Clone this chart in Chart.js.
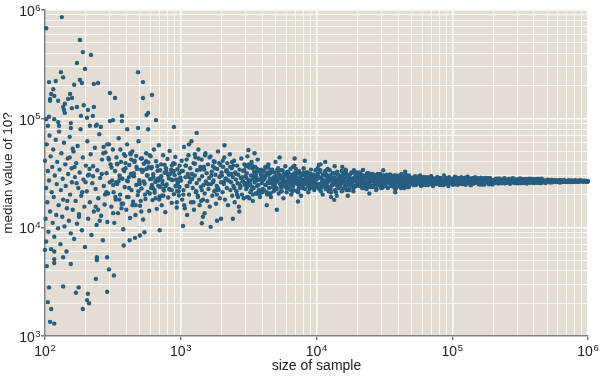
<!DOCTYPE html>
<html><head><meta charset="utf-8">
<script src="https://cdn.jsdelivr.net/npm/chart.js@4.4.0/dist/chart.umd.min.js"></script>
<style>html,body{margin:0;padding:0;background:#fff;}#wrap{width:600px;height:379px;}</style>
</head><body><div id="wrap"><canvas id="c" width="600" height="379"></canvas></div>
<script>
const xTickValues = [1e2, 1e3, 1e4, 1e5, 1e6];
const xTickExponents = ['2', '3', '4', '5', '6'];
const yTickValues = [1e3, 1e4, 1e5, 1e6];
const yTickExponents = ['3', '4', '5', '6'];
const tickBase = '10';
const xTitle = 'size of sample';
const yTitle = 'median value of 10?';

// sample sizes 10^2 .. 10^3
const size1 = [
102,133,181,190,218,172,197,131,136,181,
187,164,229,246,107,120,115,111,117,109,
109,125,148,153,158,140,136,138,140,158,
172,193,207,229,184,204,225,301,328,485,
527,614,527,575,560,369,369,317,301,657,
890,102,107,105,117,125,155,155,214,237,
241,258,403,485,575,127,
117,117,103,136,155,241,241,287,296,322,
237,107,136,177,169,207,287,105,204,211,
111,190,109,117,100,117,
100,101,102,102,103,104,105,106,107,108,
109,110,111,112,113,114,115,116,117,118,
120,121,122,123,125,126,127,128,130,131,
132,134,135,136,138,139,141,142,144,145,
147,148,150,152,153,155,157,158,160,162,
164,166,168,170,172,174,176,178,180,183,
185,187,190,192,195,197,200,203,205,208,
211,214,217,220,223,226,229,233,236,240,
243,247,251,255,259,263,267,271,275,279,
284,288,292,296,300,
304,308,312,316,320,324,328,332,336,340,
345,349,354,358,363,367,372,377,382,387,
392,397,402,407,412,418,423,429,434,440,
446,452,458,464,470,476,482,488,495,501,
508,514,521,528,535,542,549,556,564,571,
578,586,593,600,420,500,540,700,380,460,
605,612,619,627,634,642,650,658,666,674,
682,690,699,707,716,724,733,742,751,760,
770,779,788,798,808,818,828,838,848,858,
869,879,890,901,912,923,934,946,957,969,
981,993,
262,745,431,318,889,507,356,672,283,948,
590,403,821,339,718,465,976,293,623,378,
852,545,309,694,442,915,366,577,782,496,
270,641,415,860,330,529,733,455,965,611,
390,805,512,348,702,472,935,560,425,660,
152,487,236,812,341,615,178,923,402,269,
704,556,199,376,858,451,287,652,165,534,
980,318,761,226,470,591,146,833,359,688,
253,509,417,902,188,630,296,774,441,213,
569,335,727,160,954,392,246,498,873,277,
605,427,207,746,353,518,171,680,384,939
];
const median1 = [
680000,860000,530000,410000,385000,325000,287000,268000,240000,227000,
213000,205000,209000,213000,217000,222000,187000,169000,162000,152000,
146000,146000,152000,169000,155000,137000,128000,120000,113000,125000,
128000,133000,120000,128000,106000,102000,106000,172000,155000,268000,
217000,165000,155000,113000,108000,106000,95000,97000,95000,97000,
84000,99000,104000,86000,99000,93000,91000,82000,86000,86000,
88000,84000,80000,82000,80000,86000,
5100,4700,4400,5300,4600,5300,5000,5300,4100,3600,
3350,2800,2850,2800,2500,2450,2550,2050,2140,2000,
1770,1770,1350,1300,6200,6000,
41000,12000,23000,7400,58000,17000,33000,9100,27000,70000,
14000,45000,6300,21000,36000,11000,52000,19000,8200,30000,
64000,13000,25000,40000,9800,16000,76000,34000,7000,22000,
48000,12500,28000,18000,60000,10200,38000,24000,6000,15000,
43000,31000,11500,68000,20000,8800,35000,26000,14500,50000,
7800,29000,17500,39000,10800,56000,23000,13200,32000,80000,
19500,9400,44000,27500,15500,6600,37000,21500,62000,12000,
30500,17000,47000,8500,25500,36500,14000,54000,22500,10500,
33500,18500,72000,28500,12800,42000,7600,24000,16200,49000,
31500,11200,20500,58000,26000,
38000,15500,27000,52000,21000,11000,33000,18000,44000,25000,
13500,66000,30000,20000,40000,16500,28000,9600,47000,23500,
35000,14500,58000,26500,19000,37500,12200,31000,22000,50000,
17200,29500,41000,13000,24500,34500,19800,62000,27200,15800,
43000,22800,32500,11800,38500,25200,18200,48000,30000,21200,
35800,14200,27800,45000,7600,8400,9000,9400,6800,8000,
23000,36000,17800,30800,52000,20800,26200,40500,14800,33200,
24200,57000,19200,29000,38000,16000,26800,46000,21800,31800,
13800,35000,24800,42500,18800,28200,50500,22200,33800,16800,
27200,39000,20200,30200,44500,23800,15200,34200,26600,19600,
37000,28800,
31000,19500,42000,24500,33000,17500,28500,36500,21000,25500,
46000,27000,22500,38500,29500,16000,31500,43500,23000,34000,
27500,20000,35500,18000,30000,24000,15000,39500,32500,26000,
55000,22000,29000,37000,19000,33500,25000,40000,21500,28000,
45500,30500,14000,26500,23500,36000,17000,34500,48000,27000,
44000,21500,15500,30500,38000,24500,12500,27500,19000,48000,
33500,40500,26000,16500,22000,31500,58000,18500,36000,26500,
23500,13500,37500,29500,45500,20500,17500,31000,52000,27000,
11500,34000,23000,38500,21000,29000,42000,24000,16000,34500,
30000,26000,19500,53000,27500,39000,14500,25000,32500,20000,
35000,47000,30000,22500,18000,43000,25500,28000,33000,21500
];

// sample sizes 10^3 .. 10^4
const size2 = [
1005,1016,1024,1037,1049,1057,1071,1082,1090,1105,
1113,1128,1141,1150,1165,1174,1190,1199,1216,1226,
1242,1251,1268,1282,1292,1310,1320,1338,1349,1367,
1377,1396,1408,1426,1438,1457,1470,1488,1501,1520,
1533,1553,1566,1587,1600,1621,1634,1656,1670,1692,
1706,1728,1743,1765,1780,1803,1819,1842,1858,1882,
1898,1923,1939,1964,1981,1997,
1310,1430,1660,1980,1040,1150,1500,1850,
2010,2032,2051,2075,2093,2118,2140,2158,2184,2205,
2229,2250,2276,2298,2321,2347,2370,2395,2420,2443,
2470,2496,2520,2547,2573,2600,2626,2655,2681,2710,
2737,2766,2794,2822,2852,2881,2910,2942,2971,3002,
3033,3064,3096,3127,3160,3192,3225,3258,3292,3326,
3360,3395,3430,3465,3500,3537,3573,3610,3647,3685,
3722,3761,3800,3839,3878,3960,
2100,2420,3150,2700,3500,
4020,4060,4100,4150,4190,4240,4280,4330,4380,4420,
4470,4520,4570,4620,4670,4720,4770,4830,4880,4930,
4990,5040,5100,5160,5210,5270,5330,5390,5450,5510,
5570,5630,5700,5760,5830,5890,5960,6020,6090,6160,
6230,6300,6370,6440,6510,6580,6660,6730,6810,6880,
6960,7040,7120,7200,7280,7360,7440,7530,7610,7700,
7780,7870,7960,8050,8140,8230,8320,8420,8510,8610,
8700,8800,8900,9000,9100,9200,9310,9410,9520,9620,
9730,9840,9950,4450,5600,6700,7900,9050,
5100,7300,5350,6900,4300,8200,
1120,3480,6350,1785,8920,2640,4710,1355,7480,2215,
5260,1045,9630,3015,1590,6870,2480,4090,1240,8210,
3720,1915,5820,2835,1430,9180,4420,2095,7050,1085,
3260,5540,1680,8640,2385,4960,1300,6610,2930,9870,
1510,3870,7780,2150,5040,1195,8450,3370,1845,6120,
2550,4580,1395,9410,3130,1060,7250,2310,5390,1725,
8030,3610,1270,6480,2760,4280,1960,9050,3990,1460,
5700,2040,7620,1150,3540,8790,2600,4840,1630,6250,
1020,3200,9290,2270,5150,1550,7370,2880,4190,1335,
8350,3780,1880,6020,2440,5460,1210,9730,3050,1750,
6750,2700,4500,1415,7900,3440,2180,5930,1105,8560,
4040,1820,6990,2360,3660,1480,9490,5090,2980,1270,
3090,7150,4630,9960,5480,3570,8100,6180,4250,9340,
5880,3310,7560,4880,8690,6540,3820,9710,5210,7010,
4140,8880,3650,6410,5330,9260,4770,7690,3160,6060,
8290,5020,9550,3930,7320,4360,6840,5760,8970,3400,
6300,4530,9880,7960,3740,5620,8460,4010,6950,9150,
3250,5310,7440,4680,8580,6670,3520,9620,5950,4420,
7820,3080,6230,9030,4920,8170,3690,5700,7480,4080,
9410,6010,3360,8740,5140,7230,4290,9800,6600,3900
];
const median2 = [
27000,41000,18000,33000,22000,55000,15000,29000,37000,24000,
13000,31000,46000,20000,26000,35000,17000,62000,28000,23000,
39000,14500,30000,44000,21000,25500,33500,19000,52000,27500,
16000,36000,23500,42000,29500,12500,24500,34000,20500,48000,
26500,31500,17500,38000,22500,28500,15500,45000,25000,32500,
19500,36500,27000,21500,40000,30500,16500,24000,34500,50000,
22000,29000,18500,37500,26000,32000,
74000,10900,10100,12000,10300,58000,13500,11500,
30000,21000,36000,25000,44000,18000,28000,33000,23000,39000,
16000,27000,31000,47000,22000,26000,35000,19500,29000,24000,
41000,17000,32000,27500,21500,37000,25500,30500,15500,34000,
23000,28500,43000,20000,26500,33000,18500,38000,24500,29500,
22500,31500,45000,19000,27000,35500,25000,21000,30000,40000,
23500,17500,28000,32500,26000,36000,20500,29000,24000,42000,
27500,22000,33500,19000,31000,25500,
57000,12000,51500,14000,48000,
27000,33000,22000,29000,36000,24500,30500,20000,26000,38000,
23000,28000,31500,19000,25500,34000,27500,21500,32000,24000,
40000,29000,22500,26500,35000,20500,30000,25000,28500,33500,
23500,27000,18500,31000,24500,36500,26000,21000,29500,32500,
23000,27500,25500,34500,20000,28000,30500,24000,22000,37000,
26500,29000,31500,21500,27000,25000,33000,23500,28500,19500,
30000,26000,24500,35000,27500,22500,29500,32000,25500,28000,
21000,31000,26500,23500,34000,27000,24000,29000,30500,22000,
25000,33500,28000,20500,26000,36000,23000,31000,
14500,17300,44000,43000,16000,41000,
24000,29500,22500,35000,30000,19000,26500,43000,24500,32000,
28000,20000,26000,36500,25000,31500,23000,33000,17000,27500,
21000,39000,25000,29000,22000,23500,30500,26500,34500,37000,
24500,21500,30000,28500,40000,25500,21500,27000,33500,24000,
46000,22000,30500,28000,23000,27500,26000,35000,20000,29000,
31000,20500,34000,27000,25000,16000,25500,36000,30000,26000,
32000,27000,38500,22000,24000,35500,29500,28500,21000,18000,
26500,41000,23500,29000,31000,25000,20000,29000,44000,27500,
33000,18500,27500,30500,34000,25500,22500,26500,24500,19500,
30000,27500,23000,32000,37000,23500,31000,25500,28500,40500,
28000,25000,31500,17500,26000,23000,33500,26500,42000,28500,
29500,22000,27000,31000,20500,36000,24500,30000,25500,47000,
23500,29000,33500,25000,21500,30500,27000,24500,36000,28500,
26500,22000,31000,27500,24000,29500,20500,27000,32500,25500,
28000,22500,34500,26000,30000,28000,23500,26500,38000,31500,
25000,27500,23000,29000,21000,32000,26000,24000,30000,20000,
28500,25500,27500,31000,24500,33500,26500,22500,29500,24000,
27000,30500,23500,28000,32000,21500,26500,29000,25000,35500,
27500,19000,31500,25500,22000,26000,33000,28500,24500,30000,
26000,23000,37000,27500,29500,25000,21000,28000,24500,34000
];

// sample sizes 10^4 .. 10^5
const size3 = [
10050,10180,10290,10420,10530,10660,10780,10900,11040,11150,
11290,11410,11540,11680,11800,11950,12080,12220,12360,12500,
12650,12790,12940,13090,13240,13390,13550,13700,13860,14020,
14180,14340,14510,14670,14840,15010,15190,15360,15540,15720,
15900,16080,16270,16450,16640,16840,17030,17230,17430,17630,
17830,18040,18240,18450,18670,18880,19100,19320,19540,19770,
11600,13500,10400,12800,15500,17000,
20100,20340,20570,20810,21050,21300,21540,21800,22050,22310,
22570,22830,23100,23370,23640,23920,24200,24480,24770,25060,
25350,25650,25950,26250,26560,26870,27180,27500,27820,28150,
28480,28810,29150,29490,29830,30180,30530,30890,31250,31620,
31990,32360,32740,33120,33510,33900,34300,34700,35100,35510,
35930,36350,36770,37200,37640,38080,38520,38970,39430,39890,
40350,40830,41300,41790,42270,42770,43270,43770,44280,44800,
45330,45850,46390,46930,47480,48040,48600,49170,49740,49950,
22000,24500,31000,38000,45000,
50300,51000,51800,52500,53300,54000,54800,55600,56400,57200,
58100,58900,59800,60600,61500,62400,63300,64200,65200,66100,
67100,68100,69100,70100,71100,72100,73200,74200,75300,76400,
77500,78700,79800,81000,82100,83300,84600,85800,87000,88300,
89600,90900,92200,93600,94900,96300,97700,99200,55000,62000,
70500,78000,86000,93000,98500,
11300,34600,67800,15800,88200,24100,47300,12700,71900,29400,
53600,18300,95700,38700,10600,61200,21900,43100,14200,80400,
32200,16900,57800,26800,10900,92500,41400,19800,74600,13300,
30700,64900,17400,85100,23300,49600,11900,69200,36100,15200,
52100,27900,99000,20600,45800,12300,78100,33400,18900,59400,
25700,40200,14700,83600,28600,10300,65800,22700,54900,16300,
90100,37400,13800,72800,31600,19300,47900,11600,63100,26300,
81800,35300,17800,56300,24600,96800,42600,15000,68500,29900,
12900,51000,21400,76300,39500,16600,87400,27100,60200,14000,
44300,23800,94000,32900,18500,70700,13100,48700,20300,79200,
10200,27300,58600,13900,36800,80900,16100,44800,21200,11100,
70200,30300,12500,50600,19000,91400,25300,14500,39000,63800,
10800,23000,47000,17200,33000,76800,12000,28300,55800,15600,
42000,20900,84400,11500,35700,18100,66500,26000,13600,98000,
40800,22400,14900,53100,31300,10500,73500,24800,16800,46100,
12200,37900,60600,19600,29100,87900,11000,43700,21700,15300,
34000,68800,17600,26600,13000,51700,23600,10700,82500,38300,
20000,14400,57000,31900,11800,45300,18700,28900,95100,16000,
24300,12600,65100,35000,13400,41800,19900,74100,27700,15900,
10400,32600,48200,22100,12100,89700,37000,17100,61900,25400,
14100,42900,20800,10100,30000,56600,18000,11400,39800,23700,
71300,15400,27000,13200,46600,21000,84000,33700,16400,52600
];
const median3 = [
27500,31000,23000,29000,25000,33500,21500,28000,26000,30500,
24000,27000,32000,22500,29500,25500,34000,26500,23500,28500,
30000,21000,27000,24500,31500,26000,29000,22000,28000,25000,
32500,27500,23000,30000,26500,24000,29000,21500,27000,31000,
25500,28000,23500,33000,26000,29500,24500,27500,22500,30500,
25000,28000,26500,32000,23000,27000,29000,24000,31000,26000,
40000,17900,37500,19000,36000,19500,
26500,29000,24000,27500,31000,25000,28000,23000,30000,26000,
27000,24500,29500,22500,28500,26000,31500,25500,27000,23500,
29000,26500,24000,28000,30500,25000,27500,22000,29000,26000,
24500,28500,27000,31000,25500,23500,28000,26500,30000,24000,
27500,25000,29000,26000,23000,28000,27000,30500,25500,24500,
29500,26500,28000,23500,27000,25000,30000,26000,28500,24000,
27500,29000,25500,26500,31000,24500,28000,27000,23000,29500,
26000,25000,28000,27500,24000,30000,26500,25500,28500,27000,
33700,20500,33500,21000,32500,
27000,25000,28500,26000,29500,24500,27500,26500,25500,28000,
30000,24000,27000,26000,28500,25000,29000,26500,27500,24500,
28000,25500,27000,29500,26000,24000,28000,26500,27500,25000,
29000,26000,27000,24500,28500,25500,27000,26500,30000,25000,
28000,26000,27500,24000,29000,26500,25500,27000,28000,25000,
26500,29000,24500,27500,26000,
26000,28500,25500,31000,27500,24000,29000,22500,26500,30000,
27000,25500,28000,23000,32500,29000,27000,25000,24000,26500,
29500,30500,25000,27000,23500,28000,26000,32000,27500,25000,
23500,28500,22000,26000,29500,26500,30500,25500,28000,26000,
29000,24500,26500,27500,30000,21500,28000,25500,33500,27000,
31000,26500,28000,25000,27500,29500,26000,23000,28500,24500,
27000,30000,26500,24500,26000,29000,23500,33000,27500,28500,
26500,24000,27500,29000,25000,26500,29000,25500,27000,23000,
27500,25500,30500,28000,26500,22000,26000,29500,24500,31500,
27000,24000,27000,30500,28000,25500,24500,27500,29000,26000,
35000,25500,28000,21000,29500,25500,31500,24000,30500,20000,
27000,23000,33500,26000,23500,27500,28500,26500,26000,24500,
28500,24500,28000,22000,27500,28500,23500,31000,25500,29000,
23000,26000,27000,31500,25000,32000,29000,23500,36500,26000,
30000,27500,24000,28500,26500,22500,26000,30500,25500,26500,
29000,22500,27000,28500,24500,25000,26000,28500,23000,33000,
27000,25000,27000,29500,24500,24500,31500,38000,28000,27500,
25000,30500,29500,24000,27000,30500,21500,28000,25500,23000,
26500,22000,26500,30500,28500,25500,30000,27500,22500,27500,
25000,29000,25000,29500,34500,28500,24500,29500,25500,27000,
19500,27500,32000,30000,25500,26500,24500,24000,28500,23500,
28500,22000,30000,31500,23500,27000,24500,26000,34000,27500
];

// sample sizes 10^5 .. 10^6
const size4 = [
100500,101800,103000,104300,105600,106900,108200,109600,110900,112300,
113700,115100,116600,118000,119500,121000,122500,124000,125600,127100,
128700,130300,132000,133600,135300,137000,138700,140400,142200,144000,
145800,147600,149400,151300,153200,155100,157000,159000,161000,163000,
165000,167100,169200,171300,173400,175600,177800,180000,182200,184500,
186800,189200,191500,193900,196400,
201000,204000,207000,210000,213000,216000,219000,222000,225000,228000,
232000,235000,238000,242000,245000,249000,252000,256000,259000,263000,
267000,271000,274000,278000,282000,286000,291000,295000,299000,303000,
308000,312000,317000,321000,326000,331000,335000,340000,345000,350000,
355000,360000,366000,371000,376000,382000,387000,393000,399000,404000,
410000,416000,422000,428000,435000,441000,447000,454000,460000,467000,
474000,481000,488000,495000,215000,265000,300000,360000,420000,470000,
502000,511000,520000,529000,538000,548000,557000,567000,577000,587000,
597000,608000,618000,629000,640000,651000,663000,674000,686000,698000,
710000,723000,735000,748000,761000,775000,788000,802000,816000,830000,
845000,860000,875000,890000,906000,921000,938000,954000,971000,988000,
533000,590000,655000,720000,795000,850000,915000,965000,996000,545000,
112000,347000,683000,158000,884000,241000,473000,127000,719000,294000,
536000,183000,957000,387000,106000,612000,219000,431000,142000,804000,
322000,169000,578000,268000,109000,925000,414000,198000,746000,133000,
307000,649000,174000,851000,233000,496000,119000,692000,361000,152000,
521000,279000,990000,206000,458000,123000,781000,334000,189000,594000,
257000,402000,147000,836000,286000,103000,658000,227000,549000,163000,
104800,263000,571000,137800,329000,812000,178500,442000,118700,673000,
221000,155800,506000,296000,101200,731000,195600,376000,128300,941000,
245000,166300,617000,352000,111500,483000,209000,868000,141600,398000,
274000,114600,555000,187300,316000,770000,131200,455000,236000,998000,
107300,284000,632000,149000,365000,903000,171600,419000,125100,705000,
252000,160200,526000,312000,116300,762000,192000,389000,135200,979000
];
const median4 = [
26500,28000,25200,27300,29000,25800,26900,24600,28400,26200,
27600,25400,28900,26700,25000,27900,26300,28600,24800,27100,
26000,29200,25600,27400,26800,24400,28100,26400,27700,25300,
28800,26100,27200,25700,26600,28300,24900,27500,26200,28700,
25500,27000,26900,24700,27800,26400,25900,28200,27300,25200,
26700,28500,25800,27100,26300,
26600,27400,25600,28000,26200,27100,25300,26900,27800,26000,
25800,27500,26400,28300,25500,26800,27200,25900,26500,27900,
25200,26700,27300,26100,28100,25700,26900,27600,26300,25400,
27000,26600,28200,25900,26400,27400,25600,26800,27700,26200,
25300,27100,26500,28000,25800,26900,27300,26000,25500,27600,
26700,26300,27900,25700,26500,27200,26100,25900,27500,26800,
26400,27000,25600,26600,27300,26200,25800,27100,26900,26500,
26600,27100,26200,26800,27300,26000,26700,26400,27000,26100,
26900,26500,27200,25900,26600,26300,27100,26800,26200,26700,
26400,27000,26500,26100,26900,26600,26300,27100,26500,26800,
26200,26700,26400,26900,26600,26300,26800,26500,26700,26400,
26900,26200,26600,27000,26400,26700,26500,26600,26400,26800,
27800,26100,26500,25000,26900,27600,26300,28700,26200,25600,
27000,26000,26600,27400,24900,26800,26500,27900,28300,26400,
25500,27200,26700,27100,27300,26500,25800,24800,26900,25900,
27700,26300,28400,26700,25400,26600,26800,26600,27300,26900,
26400,28000,26600,27200,25700,25300,26500,26900,27400,26700,
26200,27500,25700,26600,25900,28000,26400,27000,26900,24700,
29300,25600,27100,24700,27800,26300,28500,25500,26100,26900,
28100,25300,27400,26100,24600,26700,27300,25700,28900,26500,
25400,28200,25900,27700,27000,26300,25900,27000,26000,27200,
28000,25200,26600,24900,25600,26200,27900,28000,26800,26700,
26700,27100,27200,28800,26200,26800,25600,26500,24800,26100,
27600,27000,25800,27400,28500,26900,26100,27900,25300,26400
];

const PLOT_BG = 'rgb(228,221,211)';
const DOT_COLOR = 'rgb(38,94,128)';
const AXIS_COLOR = '#808080';
const TEXT_COLOR = '#222';

function toPoints(xs, ys) {
  const n = Math.min(xs.length, ys.length);
  const out = [];
  for (let i = 0; i < n; i++) out.push({x: xs[i], y: ys[i]});
  return out;
}
const points = [].concat(
  toPoints(size1, median1), toPoints(size2, median2),
  toPoints(size3, median3), toPoints(size4, median4));

function gridTicks(min, max) {
  const t = [];
  const e0 = Math.round(Math.log10(min)), e1 = Math.round(Math.log10(max));
  for (let e = e0; e <= e1; e++) {
    for (let m = 1; m <= 9; m++) {
      const v = m * Math.pow(10, e);
      if (v >= min * 0.999 && v <= max * 1.001) t.push({value: v, major: m === 1});
    }
  }
  return t;
}
const isDecade = v => Math.abs(Math.log10(v) - Math.round(Math.log10(v))) < 1e-9;
const gridOpts = {
  color: c => (c.tick && isDecade(c.tick.value)) ? 'rgba(255,255,255,1)' : 'rgba(255,255,255,0.8)',
  lineWidth: c => (c.tick && isDecade(c.tick.value)) ? 1.5 : 1,
  tickColor: c => (c.tick && isDecade(c.tick.value)) ? AXIS_COLOR : 'rgba(0,0,0,0)',
  tickLength: 4,
  tickWidth: 1.5,
  drawOnChartArea: true,
  drawTicks: true
};

const bgPlugin = {
  id: 'plotBg',
  beforeDraw(chart) {
    const {ctx, chartArea: a} = chart;
    ctx.save();
    ctx.fillStyle = PLOT_BG;
    ctx.fillRect(a.left, a.top, a.right - a.left, a.bottom - a.top);
    ctx.restore();
  }
};

const FONT = "'Liberation Sans', Arial, Helvetica, sans-serif";
// power-of-ten tick labels with a raised exponent
const powerLabels = {
  id: 'powerLabels',
  afterDraw(chart) {
    const ctx = chart.ctx;
    const xs = chart.scales.x, ys = chart.scales.y;
    const mainFont = '14px ' + FONT, supFont = '9.5px ' + FONT;
    ctx.save();
    ctx.fillStyle = TEXT_COLOR;
    ctx.textBaseline = 'alphabetic';
    ctx.textAlign = 'left';
    function draw(exp, x0, baseline) {
      ctx.font = mainFont;
      const w = ctx.measureText(tickBase).width;
      ctx.fillText(tickBase, x0, baseline);
      ctx.font = supFont;
      ctx.fillText(exp, x0 + w + 0.5, baseline - 5.5);
    }
    function width(exp) {
      ctx.font = mainFont;
      const w = ctx.measureText(tickBase).width;
      ctx.font = supFont;
      return w + 0.5 + ctx.measureText(exp).width;
    }
    xTickValues.forEach((v, i) => {
      const px = xs.getPixelForValue(v);
      const w = width(xTickExponents[i]);
      draw(xTickExponents[i], px - w / 2, xs.top + 20);
    });
    yTickValues.forEach((v, i) => {
      const py = ys.getPixelForValue(v);
      const w = width(yTickExponents[i]);
      draw(yTickExponents[i], ys.right - 4.5 - w, py + 6);
    });
    ctx.restore();
  }
};

Chart.defaults.font.family = FONT;

new Chart(document.getElementById('c'), {
  type: 'scatter',
  data: {
    datasets: [{
      data: points,
      pointRadius: 2.2,
      pointHoverRadius: 2.2,
      pointBackgroundColor: DOT_COLOR,
      pointBorderWidth: 0,
      borderWidth: 0,
      clip: false
    }]
  },
  options: {
    responsive: false,
    animation: false,
    devicePixelRatio: 1,
    events: [],
    layout: {padding: {top: 10, right: 12, left: 0, bottom: 0}},
    plugins: {legend: {display: false}, tooltip: {enabled: false}},
    scales: {
      x: {
        type: 'logarithmic',
        min: 1e2, max: 1e6,
        afterBuildTicks: s => { s.ticks = gridTicks(1e2, 1e6); },
        afterFit: s => { s.height = 43; },
        grid: gridOpts,
        border: {display: true, color: AXIS_COLOR, width: 1.5},
        ticks: {display: false, autoSkip: false},
        title: {display: true, text: xTitle, color: TEXT_COLOR, font: {size: 14}, padding: {top: 0, bottom: 4}}
      },
      y: {
        type: 'logarithmic',
        min: 1e3, max: 1e6,
        afterBuildTicks: s => { s.ticks = gridTicks(1e3, 1e6); },
        afterFit: s => { s.width = 45; },
        grid: gridOpts,
        border: {display: true, color: AXIS_COLOR, width: 1.5},
        ticks: {display: false, autoSkip: false},
        title: {display: true, text: yTitle, color: TEXT_COLOR, font: {size: 13.5}, padding: {top: 0, bottom: 0}}
      }
    }
  },
  plugins: [bgPlugin, powerLabels]
});
</script>
</body></html>
